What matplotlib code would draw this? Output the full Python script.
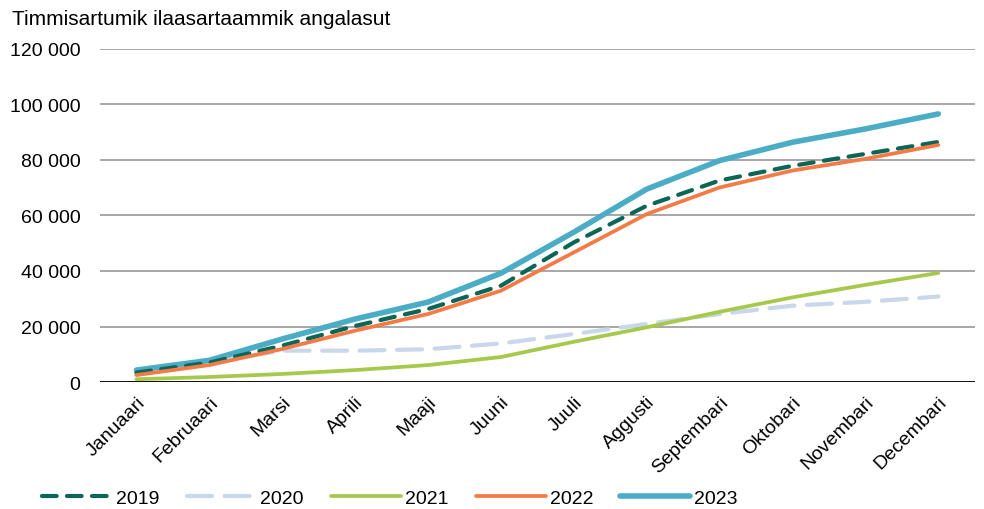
import matplotlib.pyplot as plt
from matplotlib.ticker import FuncFormatter

plt.rcParams['font.family'] = ['Liberation Sans', 'DejaVu Sans']

months = ["Januaari", "Februaari", "Marsi", "Aprili", "Maaji", "Juuni", "Juuli",
          "Aggusti", "Septembari", "Oktobari", "Novembari", "Decembari"]

y2019 = [3400, 7000, 13100, 20200, 26300, 34700, 50300, 63500, 72600, 77900, 82200, 86500]
y2020 = [3000, 7000, 11300, 11300, 11800, 13900, 17300, 20900, 24500, 27500, 28900, 30800]
y2021 = [1000, 1800, 2900, 4300, 6100, 9000, 14500, 19700, 25300, 30500, 35000, 39300]
y2022 = [2500, 6100, 11900, 18500, 24500, 32900, 46700, 60500, 70100, 76200, 80400, 85400]
y2023 = [4300, 7800, 15500, 22700, 28800, 39200, 54000, 69500, 79800, 86400, 91200, 96600]

fig = plt.figure(figsize=(9.84, 5.10), dpi=100)
ax = fig.add_axes([0.1016, 0.249, 0.889, 0.653])

x = range(len(months))
ax.plot(x, y2019, color="#0B6657", lw=3, dashes=(3.5, 2.5), dash_capstyle="round",
        solid_capstyle="round", label="2019", zorder=4)
ax.plot(x, y2020, color="#C9D7EA", lw=3, dashes=(6, 3), dash_capstyle="round",
        label="2020", zorder=3)
ax.plot(x, y2021, color="#A6C94B", lw=2.7, solid_capstyle="round", label="2021", zorder=3)
ax.plot(x, y2022, color="#F47A46", lw=2.7, solid_capstyle="round", label="2022", zorder=4)
ax.plot(x, y2023, color="#4BACC6", lw=4, solid_capstyle="round", label="2023", zorder=3)

ax.set_xlim(-0.5, len(months) - 0.5)
ax.set_ylim(0, 120000)
ax.set_yticks(range(0, 120001, 20000))
ax.yaxis.set_major_formatter(FuncFormatter(lambda v, p: f"{int(v):,}".replace(",", " ")))
ax.grid(axis="y", color="#A0A0A0", lw=1.3)
ax.set_axisbelow(True)
for s in ["top", "right", "left", "bottom"]:
    ax.spines[s].set_visible(False)
ax.axhline(0, color="black", lw=2, zorder=5)

ax.set_xticks(list(x))
ax.set_xticklabels(months, rotation=45, ha="right", rotation_mode="anchor", fontsize=14)
ax.tick_params(axis="both", length=0, labelsize=14)
ax.tick_params(axis="y", pad=14)
ax.tick_params(axis="x", pad=8)

fig.text(0.012, 0.962, "Timmisartumik ilaasartaammik angalasut", fontsize=15, va="center")

leg = fig.legend(loc="center left", bbox_to_anchor=(0.025, 0.022), ncol=5, frameon=False,
                 fontsize=14, handlelength=3.6, columnspacing=1.4, handletextpad=0.2)

fig.savefig("out.png", dpi=100)
